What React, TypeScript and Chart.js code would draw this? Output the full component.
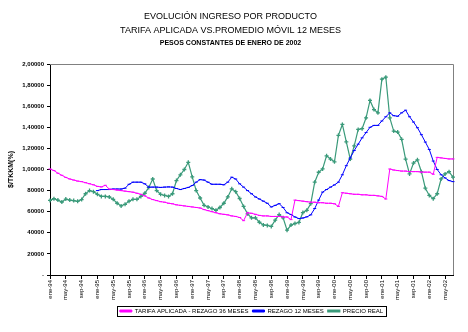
import React, { useEffect, useRef } from "react";
import { Chart, registerables } from "chart.js";

Chart.register(...registerables);

// ---- Data ----
const MONTHS = ["ene", "feb", "mar", "abr", "may", "jun", "jul", "ago", "sep", "oct", "nov", "dic"];
const START_YEAR = 1994;
const N_POINTS = 103;
const CATEGORIES: string[] = Array.from({ length: N_POINTS }, (_, i) => {
  const y = START_YEAR + Math.floor(i / 12);
  return `${MONTHS[i % 12]}-${String(y % 100).padStart(2, "0")}`;
});

const Y_TICK_LABELS = ["-", "20000", "40000", "60000", "80000", "1,00000", "1,20000", "1,40000", "1,60000", "1,80000", "2,00000"];

const TITLE_LINES = ["EVOLUCIÓN INGRESO POR PRODUCTO", "TARIFA APLICADA VS.PROMEDIO MÓVIL 12 MESES"];
const SUBTITLE = "PESOS CONSTANTES DE ENERO DE 2002";
const Y_TITLE = "$/TKKM(%)";

const SERIES_NAMES = ["TARIFA APLICADA - REZAGO 36 MESES", "REZAGO 12 MESES", "PRECIO REAL"];

const TARIFA_36 = [
  100500, 99000, 96500, 94500, 92500, 91000, 90000, 89000, 88500, 87500, 86500, 85500, 84000, 83500, 85000, 81500,
  81000, 80500, 80000, 79500, 79000, 78500, 77500, 76500, 75000, 73000, 71500, 70500, 69500, 69000, 68000, 67500,
  66500, 66000, 65500, 65000, 64500, 64000, 63500, 62000, 61000, 60000, 59000, 58000, 57500, 57000, 56000, 55500,
  54500, 51500,
  59000, 58500, 57500, 56500, 56000, 56000, 55500, 55500, 55500, 55000, 55000, 52500,
  71000, 70500, 70000, 69500, 69000, 69000, 68500, 68500, 68000, 68000, 67500, 65000,
  78000, 77500, 77000, 76500, 76500, 76000, 76000, 75500, 75500, 75000, 74500, 72000,
  100500, 99500, 99000, 98500, 98500, 98000, 98000, 98000, 97500, 97500, 97500, 95500,
  111500, 111000, 110500, 110000, 110000,
];

const REZAGO_12 = [
  null, null, null, null, null, null, null, null, null, null, null, null,
  80000, 81000, 81000, 81000, 81500, 81500, 81500, 82300, 86000, 88000, 88000, 88000, 86400, 83300, 83300, 83300,
  83000, 83300, 83500, 83300, 82000, 81000, 82000, 83000, 84800, 88000, 90400, 90000, 88000, 86000, 86000, 86000,
  85500, 88000, 92700, 91000, 86400, 83300, 80000, 77000, 74000, 72000, 70000, 68000, 64500, 66000, 67600, 64000,
  59000, 57300, 55000, 53500, 54000, 55100, 57000, 63000, 71000, 78600, 81000, 83300, 85400, 88000, 95000, 103600,
  111000, 118000, 124000, 130000, 135000, 140000, 141800, 141800, 146000, 150000, 153700, 151000, 150500, 153700,
  156200, 150000, 145000, 139600, 133000, 126000, 119000, 108000, 100000, 95000, 92000, 89500, 88500,
];

const PRECIO_REAL = [
  70700, 72300, 71000, 69200, 72000, 71000, 70500, 69800, 71500, 77000, 80000, 79000, 76500, 74500, 74500, 74000,
  71700, 68000, 65500, 67000, 70000, 71700, 71700, 74500, 77500, 83000, 91000, 80000, 76500, 75400, 74500, 77000,
  89500, 95000, 100000, 106800, 93000, 80000, 73000, 66000, 64500, 63000, 61300, 64000, 68000, 74000, 81700, 79000,
  72500, 65000, 58000, 54200, 54200, 50000, 47500, 47000, 46000, 52000, 57300, 54200, 42500, 47300, 48800, 49800,
  59200, 61300, 67600, 88000, 97400, 100500, 113000, 109900, 107300, 132400, 142700, 126100, 109900, 122400, 138000,
  138700, 149000, 165500, 156800, 153700, 185600, 187500, 149000, 136400, 135500, 128600, 109900, 95800, 106100,
  109200, 97900, 82300, 75400, 72300, 77000, 91100, 95800, 97900, 92700,
];

const FONT = "'Liberation Sans', Arial, sans-serif";

const framePlugin = {
  id: "frame",
  beforeDatasetsDraw(chart: any) {
    const { ctx, chartArea: a } = chart;
    ctx.save();
    ctx.strokeStyle = "#808080";
    ctx.lineWidth = 1;
    ctx.beginPath();
    ctx.moveTo(a.left, Math.round(a.top) + 0.5);
    ctx.lineTo(Math.round(a.right) + 0.5, Math.round(a.top) + 0.5);
    ctx.lineTo(Math.round(a.right) + 0.5, a.bottom);
    ctx.stroke();
    ctx.restore();
  },
  afterDraw(chart: any) {
    const lg = chart.legend;
    if (!lg || !lg.legendHitBoxes || !lg.legendHitBoxes.length) return;
    const hb = lg.legendHitBoxes;
    let l = Infinity, r = -Infinity, t = Infinity, b = -Infinity;
    hb.forEach((h: any) => {
      l = Math.min(l, h.left);
      r = Math.max(r, h.left + h.width);
      t = Math.min(t, h.top);
      b = Math.max(b, h.top + h.height);
    });
    const ctx = chart.ctx;
    ctx.save();
    ctx.strokeStyle = "#000";
    ctx.lineWidth = 1;
    ctx.strokeRect(Math.round(l - 3) + 0.5, Math.round(t - 2) + 0.5, Math.round(r - l + 6), Math.round(b - t + 4));
    ctx.restore();
  },
};

export default function App() {
  const ref = useRef<HTMLCanvasElement | null>(null);

  useEffect(() => {
    if (!ref.current) return;
    const chart = new Chart(ref.current, {
      type: "line",
      data: {
        labels: CATEGORIES,
        datasets: [
          {
            label: SERIES_NAMES[0],
            data: TARIFA_36,
            borderColor: "#FF00FF",
            backgroundColor: "#FF00FF",
            borderWidth: 1,
            pointStyle: "line",
            pointRadius: 1.5,
            pointBorderWidth: 1,
            tension: 0,
          },
          {
            label: SERIES_NAMES[1],
            data: REZAGO_12,
            borderColor: "#0000FF",
            backgroundColor: "#0000FF",
            borderWidth: 1,
            pointStyle: "line",
            pointRadius: 1.5,
            pointBorderWidth: 1,
            tension: 0,
            spanGaps: false,
          },
          {
            label: SERIES_NAMES[2],
            data: PRECIO_REAL,
            borderColor: "#3A9A7A",
            backgroundColor: "#3A9A7A",
            borderWidth: 1.2,
            pointStyle: "cross",
            pointRadius: 2,
            pointBorderWidth: 1.3,
            tension: 0,
          },
        ],
      },
      options: {
        animation: false,
        responsive: true,
        maintainAspectRatio: false,
        layout: { padding: { left: 0, right: 7, top: 0, bottom: 0 } },
        plugins: {
          title: {
            display: true,
            text: TITLE_LINES,
            color: "#000",
            font: { family: FONT, size: 9, weight: "normal", lineHeight: "14px" },
            padding: { top: 1.5, bottom: 0 },
          },
          subtitle: {
            display: true,
            text: SUBTITLE,
            color: "#000",
            font: { family: FONT, size: 7, weight: "bold", lineHeight: "10px" },
            padding: { top: 0.5, bottom: 16 },
          },
          legend: {
            position: "bottom",
            fullSize: false,
            labels: {
              color: "#000",
              font: { family: FONT, size: 6 },
              boxWidth: 12,
              boxHeight: 2,
              padding: 4,
            },
          },
          tooltip: { enabled: false },
        },
        scales: {
          x: {
            type: "category",
            offset: false,
            afterFit(s: any) {
              s.height = 29;
            },
            grid: { display: true, drawOnChartArea: false, drawTicks: true, tickLength: 4, color: "#000" },
            border: { display: true, color: "#000", width: 1 },
            ticks: {
              autoSkip: false,
              maxRotation: 90,
              minRotation: 90,
              padding: 1,
              color: "#000",
              font: { family: FONT, size: 6 },
              callback: (_v: any, i: number) => (i % 4 === 0 ? CATEGORIES[i] : null),
            },
          },
          y: {
            min: 0,
            max: 200000,
            afterFit(s: any) {
              s.width = 42;
            },
            title: {
              display: true,
              text: Y_TITLE,
              color: "#000",
              font: { family: FONT, size: 7, weight: "bold", lineHeight: 1 },
              padding: 0,
            },
            grid: { display: true, drawOnChartArea: false, drawTicks: true, tickLength: 3, color: "#000" },
            border: { display: true, color: "#000", width: 1 },
            ticks: {
              stepSize: 20000,
              padding: 3,
              color: "#000",
              font: { family: FONT, size: 6, weight: "bold" },
              callback: (v: any) => Y_TICK_LABELS[Math.round(Number(v) / 20000)],
            },
          },
        },
      },
      plugins: [framePlugin],
    } as any);
    return () => chart.destroy();
  }, []);

  return (
    <div style={{ width: 452, height: 316, position: "relative" }}>
      <canvas ref={ref} />
    </div>
  );
}
